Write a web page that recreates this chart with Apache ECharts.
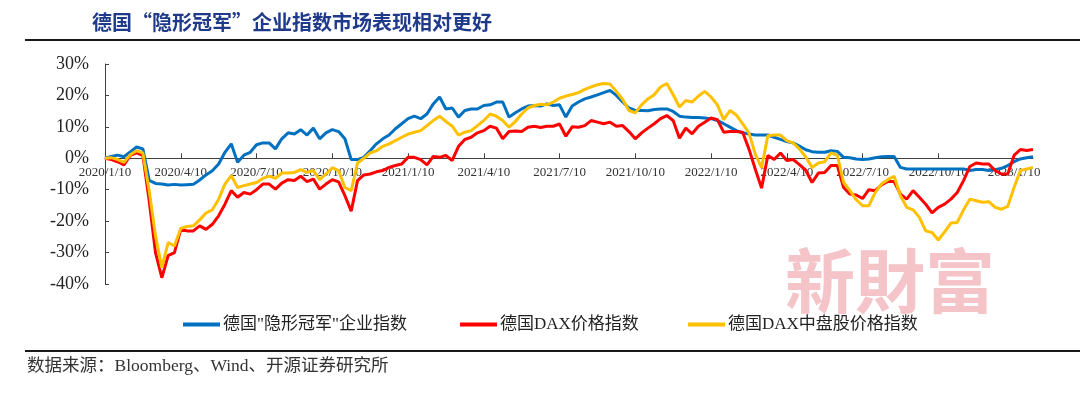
<!DOCTYPE html>
<html>
<head>
<meta charset="utf-8">
<script src="https://cdn.jsdelivr.net/npm/echarts@6/dist/echarts.min.js"></script>
<style>
html,body{margin:0;padding:0;background:#fff;}
#chart{width:1080px;height:394px;}
</style>
</head>
<body>
<div id="chart"></div>
<script>
// Quarterly tick labels on the x axis
var tickLabels = ['2020/1/10','2020/4/10','2020/7/10','2020/10/10','2021/1/10','2021/4/10','2021/7/10','2021/10/10','2022/1/10','2022/4/10','2022/7/10','2022/10/10','2023/1/10'];
var samplesPerQuarter = 12;
var extraSamples = 3; // samples after the last tick label

// Series names
var seriesNames = ['德国"隐形冠军"企业指数', '德国DAX价格指数', '德国DAX中盘股价格指数'];

// Cumulative return (%), about weekly
var hiddenChampion = [
 0,0.6,1,0.5,2,3.6,3,-7,-8,-8.2,-8.5,-8.3,
 -8.5,-8.4,-8.3,-6.9,-5.3,-4,-1.8,1.9,4.6,-1.3,1,1.9,
 4.3,4.9,4.9,3,6.2,8.1,7.7,9.1,7.4,9.6,6.2,8.1,
 9.1,8.5,6.2,-0.4,-0.4,0.3,2.4,4.6,6.2,7.4,9.4,11,
 12.6,13.4,12.6,14.1,17.3,19.5,15.7,16,13.1,15.2,15.7,15.7,
 16.8,17,17.9,17.9,13.1,14.5,15.7,16.6,16.8,16.6,17.3,16.8,
 17,13.1,16.6,17.9,18.9,19.5,20.2,20.9,21.6,20,17.9,16,
 15.2,15.2,15.1,15.5,15.7,15.7,14.9,13.4,13.1,13,13,12.8,
 12.6,12,11,9.9,8.8,8.1,7.7,7.4,7.4,7.4,6.7,6,
 5.3,4.9,3.9,2.7,2.1,1.9,1.9,2.4,2.2,0.3,0.2,-0.2,
 -0.4,-0.2,0.2,0.5,0.6,0.6,-2.9,-3.4,-3.4,-3.4,-3.4,-3.4,
 -3.4,-3.4,-3.4,-3.4,-3.4,-3.9,-3.6,-3.6,-3.9,-3.6,-3.2,-2.3,
 -1.1,-0.2,0.2,0.5
];
var daxIndex = [
 0,-0.4,-1.1,-2.1,0.9,1.7,0.9,-13.5,-30,-38,-31,-30,
 -22.6,-23.1,-23.1,-21.5,-22.6,-21,-18.3,-14.6,-10.3,-12.4,-10.9,-11.4,
 -10,-8.2,-8.2,-9.8,-7.9,-6.8,-7.1,-5.7,-7.4,-6.6,-9.8,-8.2,
 -6.8,-7.5,-11.9,-16.8,-7.1,-5.3,-5,-4.3,-3.9,-2.9,-2.3,-1.8,
 0.3,0.3,-0.4,-2.1,0.6,0.3,0.9,-0.7,3.8,6,6.7,8.1,
 8.8,10.2,9.6,6.2,8.5,8.7,8.5,9.9,10.2,9.8,10.2,10.2,
 10.9,7,10,9.9,10.4,12,11.5,11,11.5,10.2,10.4,8.5,
 6.2,8.1,9.6,11,12.6,13.6,12,6.4,9.6,7.8,10.2,11.5,
 12.8,12.3,8.3,8.5,8.5,8.3,3,-3.4,-9.5,0.9,-0.4,1.7,
 -0.7,-0.4,-2,-3.8,-7.7,-4.7,-4.5,-2.3,-2.3,-9.3,-11.4,-11.7,
 -12.8,-10,-10.3,-8.5,-7.4,-7.4,-11.4,-13,-10.3,-12.4,-14.6,-17.4,
 -15.6,-14.6,-13,-10.9,-7.1,-2.6,-1.5,-1.8,-1.8,-3.9,-5,-5,
 0.9,2.8,2.5,2.8
];
var daxMidCap = [
 0,0.2,-0.4,-1.3,1.1,2.4,1.7,-10.3,-24.7,-34.8,-26.8,-27.9,
 -22.3,-21.7,-21.5,-19.6,-17.4,-16.4,-13,-8.2,-5.5,-9.3,-8.7,-8.2,
 -7.7,-6.4,-5.7,-6.4,-4.7,-4.7,-4.5,-3.6,-4.5,-3.9,-6.8,-5,
 -3,-3.9,-9.3,-10.3,-1.5,0,1.7,2.4,3.8,4.6,5.6,6.7,
 7.7,8.3,8.8,10.4,12,13.4,11.7,10.2,7.4,8.3,8.8,10.4,
 12,14.1,13.4,12,9.9,11.7,14.1,16,16.8,17.2,17,17.9,
 19.1,19.8,20.3,20.9,21.9,22.7,23.4,23.8,23.6,21.3,18.7,15.2,
 14.5,17,18.9,20.2,22.7,23.8,20.2,16.3,18.4,17.9,19.8,21.3,
 19.5,17,12.3,15.2,13.8,11,8.1,1.4,-3,7.2,7.4,7.4,
 5.6,4.9,3,0.4,-2.9,-1.5,-1.1,1.7,0.9,-7.7,-10.3,-13.2,
 -15.1,-15.1,-10.9,-8.2,-6.8,-5.7,-11.9,-15.6,-16.4,-18.8,-23.1,-23.6,
 -26,-23.4,-20.6,-20.4,-16.4,-13,-13.5,-14,-13.8,-15.6,-16.2,-15.3,
 -9.3,-3.9,-3.4,-2.9
];

// Build category dates: evenly spaced samples within each quarter
function parseD(s){var p=s.split('/');return new Date(+p[0],+p[1]-1,+p[2]);}
function fmt(d){return d.getFullYear()+'/'+(d.getMonth()+1)+'/'+d.getDate();}
var categories = [];
for (var q=0;q<tickLabels.length-1;q++){
  var a=parseD(tickLabels[q]), b=parseD(tickLabels[q+1]);
  for (var k=0;k<samplesPerQuarter;k++){
    categories.push(k===0?tickLabels[q]:fmt(new Date(a.getTime()+(b-a)*k/samplesPerQuarter)));
  }
}
var lastD=parseD(tickLabels[tickLabels.length-1]);
categories.push(tickLabels[tickLabels.length-1]);
for (var e=1;e<=extraSamples;e++){
  categories.push(fmt(new Date(lastD.getTime()+e*Math.round(91/samplesPerQuarter)*86400000)));
}

var yMin=-40, yMax=30;
var gridTop=64, gridBottom=110, H=394;
var plotH = H-gridTop-gridBottom;
var zeroOffset = -plotH*(0-yMin)/(yMax-yMin); // lift x axis to the 0% line

var colors = ['#0070C0','#FF0000','#FFC000'];
var serif = '"Liberation Serif","Times New Roman","Noto Sans CJK SC"';
var chart = echarts.init(document.getElementById('chart'), null, {renderer:'canvas'});
function isTick(i){return i % samplesPerQuarter === 0;}
function legendAt(name,left){
  return {data:[name],left:left,top:311,icon:'rect',itemWidth:37,itemHeight:4,
    textStyle:{fontSize:17,fontFamily:serif,color:'#222',padding:[0,0,0,-2]}};
}
chart.setOption({
  animation:false,
  backgroundColor:'#fff',
  title:{text:'德国“隐形冠军”企业指数市场表现相对更好',left:87,top:7,
    textStyle:{fontSize:20,fontWeight:'bold',color:'#1f3a8a',fontFamily:'"Noto Sans CJK SC"'}},
  legend:[legendAt(seriesNames[0],178),legendAt(seriesNames[1],455),legendAt(seriesNames[2],683)],
  grid:{left:105,right:47,top:gridTop,bottom:gridBottom},
  xAxis:{type:'category',data:categories,boundaryGap:false,offset:zeroOffset,
    axisLine:{onZero:false,lineStyle:{color:'#404040',width:1}},
    axisTick:{inside:true,length:5,interval:function(i){return isTick(i);},lineStyle:{color:'#404040'}},
    axisLabel:{interval:function(i){return isTick(i);},fontSize:13,fontFamily:serif,color:'#333',margin:8},
    splitLine:{show:false}},
  yAxis:{type:'value',min:yMin,max:yMax,interval:10,
    axisLine:{show:true,lineStyle:{color:'#404040',width:1}},
    axisTick:{show:true,inside:true,length:4,lineStyle:{color:'#404040'}},
    axisLabel:{formatter:'{value}%',fontSize:18,fontFamily:serif,color:'#222',margin:16},
    splitLine:{show:false}},
  series:[
    {name:seriesNames[0],type:'line',data:hiddenChampion,showSymbol:false,color:colors[0],lineStyle:{width:3,color:colors[0]},z:2},
    {name:seriesNames[1],type:'line',data:daxIndex,showSymbol:false,color:colors[1],lineStyle:{width:3,color:colors[1]},z:3},
    {name:seriesNames[2],type:'line',data:daxMidCap,showSymbol:false,color:colors[2],lineStyle:{width:3,color:colors[2]},z:4}
  ],
  graphic:[
    {type:'line',shape:{x1:25,y1:40,x2:1080,y2:40},style:{stroke:'#1a1a1a',lineWidth:2}},
    {type:'line',shape:{x1:25,y1:351,x2:1080,y2:351},style:{stroke:'#1a1a1a',lineWidth:2}},
    {type:'text',left:27,top:358,style:{text:'数据来源：Bloomberg、Wind、开源证券研究所',font:'17.5px '+serif,fill:'#333'}},
    {type:'text',left:785,top:246,z:-10,style:{text:'新財富',font:'bold 70px "Noto Sans CJK TC"',fill:'#f4c4c8'}}
  ]
});
</script>
</body>
</html>
